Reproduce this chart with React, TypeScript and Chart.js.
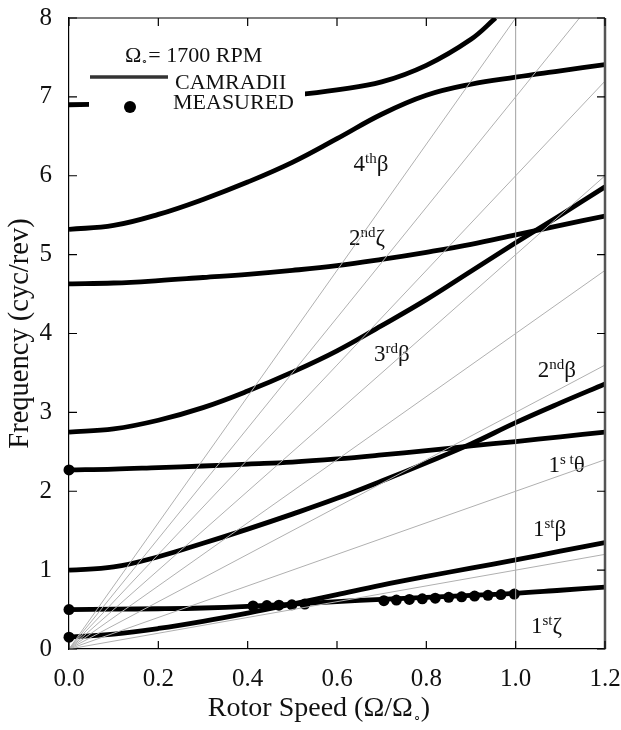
import React, { useEffect, useRef } from "react";
import { Chart, registerables } from "chart.js";

Chart.register(...registerables);

// ---------- data ----------
const speedGrid = [0, 0.1, 0.2, 0.3, 0.4, 0.5, 0.6, 0.7, 0.8, 0.9, 1.0, 1.1, 1.2];
const lag1 = [0.5, 0.505, 0.51, 0.52, 0.54, 0.57, 0.6, 0.63, 0.655, 0.68, 0.705, 0.745, 0.785];
const flap1 = [0.15, 0.19, 0.26, 0.35, 0.455, 0.57, 0.69, 0.81, 0.92, 1.025, 1.13, 1.24, 1.35];
const flap2 = [1.0, 1.04, 1.17, 1.34, 1.52, 1.71, 1.91, 2.13, 2.36, 2.6, 2.87, 3.12, 3.36];
const torsion1 = [2.27, 2.28, 2.3, 2.32, 2.345, 2.37, 2.41, 2.46, 2.515, 2.575, 2.63, 2.69, 2.75];
const flap3 = [2.75, 2.79, 2.9, 3.06, 3.27, 3.51, 3.78, 4.1, 4.43, 4.79, 5.15, 5.5, 5.86];
const lag2 = [4.63, 4.64, 4.67, 4.71, 4.75, 4.8, 4.86, 4.94, 5.03, 5.13, 5.25, 5.37, 5.49];
const flap4 = [5.32, 5.37, 5.51, 5.7, 5.92, 6.17, 6.47, 6.78, 7.02, 7.16, 7.25, 7.33, 7.41];
const upperSpeed = [0, 0.1, 0.2, 0.3, 0.4, 0.5, 0.6, 0.7, 0.8, 0.9, 0.955];
const upperMode = [6.9, 6.91, 6.92, 6.94, 6.97, 7.02, 7.09, 7.19, 7.4, 7.73, 8.0];

const measuredSpeed = [0, 0, 0, 0.412, 0.443, 0.47, 0.499, 0.528, 0.705, 0.733, 0.762, 0.791, 0.82, 0.85, 0.879, 0.908, 0.938, 0.967, 0.997];
const measuredFreq = [0.15, 0.5, 2.27, 0.545, 0.55, 0.555, 0.56, 0.57, 0.612, 0.62, 0.628, 0.636, 0.645, 0.655, 0.662, 0.671, 0.68, 0.69, 0.697];

const perRevOrders = [1, 2, 3, 4, 5, 6, 7, 8];
const xTickMin = 0;
const xTickMax = 1.2;
const xTickStep = 0.2;
const yTickMin = 0;
const yTickMax = 8;
const yTickStep = 1;

// mode labels (base, superscript, symbol, anchor in data units)
const labelBase = ["4", "2", "3", "2", "1", "1", "1"];
const labelSup = ["th", "nd", "rd", "nd", "s t", "st", "st"];
const labelSym = ["β", "ζ", "β", "β", "θ", "β", "ζ"];
const labelX = [0.676, 0.667, 0.723, 1.092, 1.114, 1.076, 1.069];
const labelY = [6.16, 5.22, 3.75, 3.55, 2.34, 1.53, 0.3];

const FONT = "'Liberation Serif', 'Times New Roman', serif";

const pts = (xs: number[], ys: number[]) => xs.map((x, i) => ({ x, y: ys[i] }));

function drawLabel(ctx: CanvasRenderingContext2D, base: string, sup: string, sym: string, cx: number, cy: number) {
  const bigF = `23px ${FONT}`;
  const smallF = `15px ${FONT}`;
  ctx.font = bigF;
  const wb = ctx.measureText(base).width;
  const ws = ctx.measureText(sym).width;
  ctx.font = smallF;
  const wsup = ctx.measureText(sup).width;
  const total = wb + wsup + ws;
  const x0 = cx - total / 2;
  ctx.fillStyle = "#fff";
  ctx.fillRect(x0 - 4, cy - 15, total + 8, 28);
  ctx.fillStyle = "#111";
  ctx.textBaseline = "alphabetic";
  ctx.textAlign = "left";
  const baseLine = cy + 8;
  ctx.font = bigF;
  ctx.fillText(base, x0, baseLine);
  ctx.font = smallF;
  ctx.fillText(sup, x0 + wb, baseLine - 8);
  ctx.font = bigF;
  ctx.fillText(sym, x0 + wb + wsup, baseLine);
}

const decorPlugin = {
  id: "decor",
  afterDatasetDraw(chart: any, args: any) {
    if (args.index !== perRevOrders.length) return;
    const ctx = chart.ctx as CanvasRenderingContext2D;
    const xs = chart.scales.x;
    const ys = chart.scales.y;
    ctx.save();
    for (let i = 0; i < labelBase.length; i++) {
      drawLabel(ctx, labelBase[i], labelSup[i], labelSym[i], xs.getPixelForValue(labelX[i]), ys.getPixelForValue(labelY[i]));
    }
    ctx.restore();
  },
  afterDatasetsDraw(chart: any) {
    const ctx = chart.ctx as CanvasRenderingContext2D;
    const { left, top } = chart.chartArea;
    ctx.save();
    // legend box (masks what is behind it)
    ctx.fillStyle = "#fff";
    ctx.fillRect(left + 20, top + 20, 216, 80);
    ctx.fillStyle = "#111";
    ctx.textAlign = "left";
    ctx.textBaseline = "alphabetic";
    ctx.font = `22px ${FONT}`;
    const ox = left + 56;
    const oy = top + 44;
    ctx.fillText("Ω", ox, oy);
    const wO = ctx.measureText("Ω").width;
    ctx.font = `11px ${FONT}`;
    ctx.fillText("∘", ox + wO, oy + 3);
    const wc = ctx.measureText("∘").width;
    ctx.font = `22px ${FONT}`;
    ctx.fillText("= 1700 RPM", ox + wO + wc, oy);
    ctx.fillText("CAMRADII", left + 106, top + 71);
    ctx.fillText("MEASURED", left + 104, top + 91);
    ctx.strokeStyle = "#333";
    ctx.lineWidth = 3.5;
    ctx.beginPath();
    ctx.moveTo(left + 21, top + 59);
    ctx.lineTo(left + 99, top + 59);
    ctx.stroke();
    ctx.fillStyle = "#000";
    ctx.beginPath();
    ctx.arc(left + 61, top + 89, 6, 0, Math.PI * 2);
    ctx.fill();
    ctx.restore();
  },
  afterDraw(chart: any) {
    const ctx = chart.ctx as CanvasRenderingContext2D;
    const { left, right, top, bottom } = chart.chartArea;
    const xs = chart.scales.x;
    const ys = chart.scales.y;
    ctx.save();
    // frame
    ctx.strokeStyle = "#000";
    ctx.lineWidth = 1.2;
    ctx.beginPath();
    ctx.moveTo(left, top);
    ctx.lineTo(right, top);
    ctx.stroke();
    ctx.strokeStyle = "#555";
    ctx.lineWidth = 2.5;
    ctx.beginPath();
    ctx.moveTo(right, top);
    ctx.lineTo(right, bottom);
    ctx.stroke();
    // inward ticks
    ctx.strokeStyle = "#000";
    ctx.lineWidth = 1.2;
    ctx.beginPath();
    xs.ticks.forEach((t: any) => {
      const px = xs.getPixelForValue(t.value);
      ctx.moveTo(px, bottom);
      ctx.lineTo(px, bottom - 8);
      ctx.moveTo(px, top);
      ctx.lineTo(px, top + 8);
    });
    ys.ticks.forEach((t: any) => {
      const py = ys.getPixelForValue(t.value);
      ctx.moveTo(left, py);
      ctx.lineTo(left + 8, py);
      ctx.moveTo(right, py);
      ctx.lineTo(right - 8, py);
    });
    ctx.stroke();
    // x title with subscript
    const main1 = "Rotor Speed (Ω/Ω";
    const tail = ")";
    const sub = "∘";
    const big = `28px ${FONT}`;
    const small = `13px ${FONT}`;
    ctx.font = big;
    const w1 = ctx.measureText(main1).width;
    const w3 = ctx.measureText(tail).width;
    ctx.font = small;
    const w2 = ctx.measureText(sub).width;
    const total = w1 + w2 + w3;
    const cx = (left + right) / 2 - 18;
    const x0 = cx - total / 2;
    const by = 716;
    ctx.fillStyle = "#111";
    ctx.textAlign = "left";
    ctx.textBaseline = "alphabetic";
    ctx.font = big;
    ctx.fillText(main1, x0, by);
    ctx.font = small;
    ctx.fillText(sub, x0 + w1, by + 5);
    ctx.font = big;
    ctx.fillText(tail, x0 + w1 + w2, by);
    ctx.restore();
  },
};

export default function App() {
  const ref = useRef<HTMLCanvasElement | null>(null);
  useEffect(() => {
    document.body.style.margin = "0";
    const canvas = ref.current;
    if (!canvas) return;
    const curve = (data: { x: number; y: number }[]) => ({
      data,
      borderColor: "#000",
      borderWidth: 4.8,
      borderJoinStyle: "round",
      pointRadius: 0,
      tension: 0.4,
      fill: false,
    });
    const datasets: any[] = [];
    perRevOrders.forEach((k) => {
      datasets.push({
        data: [
          { x: 0, y: 0 },
          { x: xTickMax, y: xTickMax * k },
        ],
        borderColor: "#b0b0b0",
        borderWidth: 1,
        pointRadius: 0,
        tension: 0,
      });
    });
    datasets.push({
      data: [
        { x: 1, y: yTickMin },
        { x: 1, y: yTickMax },
      ],
      borderColor: "#a0a0a0",
      borderWidth: 1,
      pointRadius: 0,
      tension: 0,
    });
    datasets.push(curve(pts(speedGrid, lag1)));
    datasets.push(curve(pts(speedGrid, flap1)));
    datasets.push(curve(pts(speedGrid, flap2)));
    datasets.push(curve(pts(speedGrid, torsion1)));
    datasets.push(curve(pts(speedGrid, flap3)));
    datasets.push(curve(pts(speedGrid, lag2)));
    datasets.push(curve(pts(speedGrid, flap4)));
    datasets.push(curve(pts(upperSpeed, upperMode)));
    datasets.push({
      data: pts(measuredSpeed, measuredFreq),
      showLine: false,
      pointRadius: 5.5,
      pointBackgroundColor: "#000",
      pointBorderColor: "#000",
      pointBorderWidth: 0,
      clip: false,
    });

    const chart = new Chart(canvas, {
      type: "line",
      data: { datasets },
      options: {
        animation: false,
        responsive: false,
        maintainAspectRatio: false,
        layout: { padding: { top: 18, right: 16, left: 0, bottom: 0 } },
        plugins: { legend: { display: false }, tooltip: { enabled: false } },
        scales: {
          x: {
            type: "linear",
            min: xTickMin,
            max: xTickMax,
            grid: { display: false, drawTicks: false },
            border: { display: true, color: "#000", width: 1.2 },
            afterFit: (s: any) => {
              s.height = 81;
              s.paddingLeft = 0;
              s.paddingRight = 0;
            },
            ticks: {
              stepSize: xTickStep,
              color: "#111",
              padding: 15,
              maxRotation: 0,
              font: { family: FONT, size: 25 },
              callback: (v: any) => Number(v).toFixed(1),
            },
          },
          y: {
            type: "linear",
            min: yTickMin,
            max: yTickMax,
            grid: { display: false, drawTicks: false },
            border: { display: true, color: "#000", width: 1.2 },
            afterFit: (s: any) => {
              s.width = 69;
              s.paddingTop = 0;
              s.paddingBottom = 0;
            },
            ticks: {
              stepSize: yTickStep,
              color: "#111",
              padding: 17,
              font: { family: FONT, size: 25 },
            },
            title: {
              display: true,
              text: "Frequency (cyc/rev)",
              color: "#111",
              font: { family: FONT, size: 28.5 },
              padding: { top: 3, bottom: 0 },
            },
          },
        },
      },
      plugins: [decorPlugin],
    });
    return () => chart.destroy();
  }, []);
  return (
    <div style={{ width: 621, height: 730 }}>
      <canvas ref={ref} width={621} height={730} style={{ display: "block" }} />
    </div>
  );
}
